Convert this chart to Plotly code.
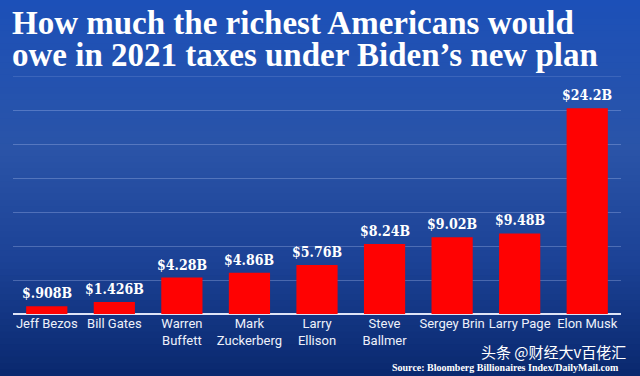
import plotly.graph_objects as go

names = ["Jeff Bezos", "Bill Gates", "Warren<br>Buffett", "Mark<br>Zuckerberg", "Larry<br>Ellison",
         "Steve<br>Ballmer", "Sergey Brin", "Larry Page", "Elon Musk"]
taxes_bn = [0.908, 1.426, 4.28, 4.86, 5.76, 8.24, 9.02, 9.48, 24.2]
value_labels = ["$.908B", "$1.426B", "$4.28B", "$4.86B", "$5.76B", "$8.24B", "$9.02B", "$9.48B", "$24.2B"]
title_lines = ["How much the richest Americans would", "owe in 2021 taxes under Biden\u2019s new plan"]
source = "Source: Bloomberg Billionaires Index/DailyMail.com"
watermark = "头条 @财经大v百佬汇"
y_max = 28

W, H = 640, 376
ML, MR, MT, MB = 13, 19, 76, 62
PW, PH = W - ML - MR, H - MT - MB

def xp(px):
    return (px - ML) / PW

def yp(py):
    return (H - MB - py) / PH

def lerp(c1, c2, t):
    return tuple(round(a + (b - a) * t) for a, b in zip(c1, c2))

stops = [(0, (28, 80, 184)), (150, (42, 84, 168)), (260, (28, 66, 150)), (376, (10, 40, 110))]
shapes = []
nb = 60
for i in range(nb):
    y0 = H * i / nb
    y1 = H * (i + 1) / nb
    ym = (y0 + y1) / 2
    for j in range(len(stops) - 1):
        if stops[j][0] <= ym <= stops[j + 1][0]:
            t = (ym - stops[j][0]) / (stops[j + 1][0] - stops[j][0])
            c = lerp(stops[j][1], stops[j + 1][1], t)
            break
    shapes.append(dict(type="rect", xref="paper", yref="paper", x0=xp(-5), x1=xp(W + 5),
                       y0=yp(y1 + 0.5), y1=yp(y0 - 0.5), fillcolor="rgb(%d,%d,%d)" % c,
                       line=dict(width=0), layer="below"))
shapes.append(dict(type="line", xref="paper", yref="y", x0=0, x1=1, y0=y_max, y1=y_max,
                   line=dict(color="rgba(200,215,255,0.3)", width=1), layer="below"))

fig = go.Figure(go.Bar(x=names, y=taxes_bn, marker=dict(color="#ff0202", line=dict(width=0)),
                       width=0.61))

annotations = []
for n, v, lab in zip(names, taxes_bn, value_labels):
    annotations.append(dict(x=n, y=v, text=lab, showarrow=False, yanchor="bottom", yshift=3,
                            font=dict(family="DejaVu Serif Condensed", size=14, color="white", weight="bold")))
for k, line in enumerate(title_lines):
    annotations.append(dict(xref="paper", yref="paper", x=xp(10), y=yp(23 + 32 * k), xanchor="left",
                            yanchor="middle", text=line, showarrow=False,
                            font=dict(family="Liberation Serif", size=33, color="white", weight="bold")))
annotations.append(dict(xref="paper", yref="paper", x=xp(628), y=yp(352), xanchor="right", yanchor="middle",
                        text=watermark, showarrow=False,
                        font=dict(family="Noto Sans CJK SC", size=15, color="white")))
annotations.append(dict(xref="paper", yref="paper", x=xp(621), y=yp(367), xanchor="right", yanchor="middle",
                        text=source, showarrow=False,
                        font=dict(family="Liberation Serif", size=10, color="white", weight="bold")))

fig.update_layout(
    width=W, height=H, margin=dict(l=ML, r=MR, t=MT, b=MB, autoexpand=False),
    paper_bgcolor="#0a2a6e", plot_bgcolor="rgba(0,0,0,0)",
    showlegend=False, bargap=0.39,
    shapes=shapes, annotations=annotations,
    xaxis=dict(showgrid=False, ticks="", tickfont=dict(family="Roboto", size=13, color="#eef1fa"),
               showline=False, zeroline=False, fixedrange=True, automargin=False),
    yaxis=dict(range=[0, y_max], dtick=4, showticklabels=False, gridcolor="rgba(200,215,255,0.28)",
               gridwidth=1, zeroline=True, zerolinecolor="#dfe4f7", zerolinewidth=2, showline=False,
               automargin=False, fixedrange=True),
)
fig.write_html("out.html", config={"displayModeBar": False},
               post_script="document.body.style.margin='0';document.body.style.overflow='hidden';")
